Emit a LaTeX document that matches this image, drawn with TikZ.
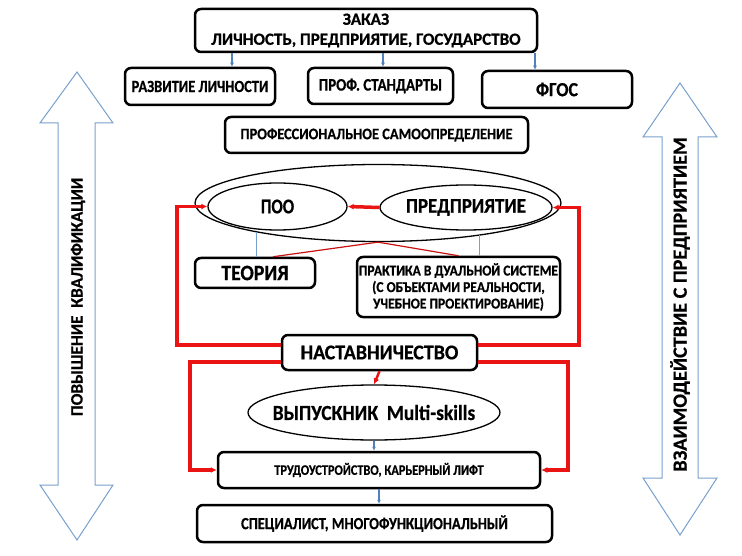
\documentclass[tikz,border=0pt]{standalone}
\usepackage{fontspec}
\setmainfont{Carlito}[FakeBold=0.6]
\newfontfamily\condA{Carlito}[FakeStretch=0.8,FakeBold=0.6]
\newfontfamily\condB{Carlito}[FakeStretch=0.85,FakeBold=0.6]
\newfontfamily\condC{Carlito}[FakeStretch=0.9,FakeBold=0.6]
\newfontfamily\condD{Carlito}[FakeStretch=0.95,FakeBold=0.6]
\usetikzlibrary{shapes.geometric,arrows.meta,calc}
\definecolor{steel}{RGB}{79,129,189}
\definecolor{lightsteel}{RGB}{120,160,205}
\definecolor{rd}{RGB}{235,20,20}
\newcommand{\fs}[2]{\fontsize{#1}{#2}\selectfont}
\tikzset{
  box/.style={draw=black, line width=2.5pt, rounded corners=6pt, fill=white, inner sep=0pt, align=center, font=\bfseries},
  oval/.style={draw=black, ellipse, line width=1.3pt, inner sep=0pt, align=center, font=\bfseries},
  bluecon/.style={draw=steel, line width=1.6pt, -{Latex[length=4pt,width=4pt]}},
  bluethin/.style={draw=lightsteel, line width=0.9pt},
  redline/.style={draw=rd, line width=3.5pt, -{Latex[length=6pt,width=6pt]}},
  redthin/.style={draw=rd!85!black, line width=1.2pt},
  sidearrow/.style={draw=lightsteel, line width=1pt, fill=white},
  sidetext/.style={rotate=90},
}
\begin{document}
\begin{tikzpicture}[x=1pt,y=-1pt]
\useasboundingbox (0,0) rectangle (742,556);
% side arrows
\draw[sidearrow] (77,72) -- (113,123) -- (95,123) -- (95,485) -- (113,485) -- (77,540) -- (40,485) -- (58,485) -- (58,123) -- (40,123) -- cycle;
\draw[sidearrow] (680,83) -- (717,137) -- (698,137) -- (698,478) -- (717,478) -- (680,535) -- (643,478) -- (662,478) -- (662,137) -- (643,137) -- cycle;
\node[sidetext, font=\bfseries\fs{17.3}{20}] (lt) at (78,297) {ПОВЫШЕНИЕ\ \ КВАЛИФИКАЦИИ};
\node[sidetext, font=\bfseries\fs{20.2}{22}] (rt) at (680,304.5) {ВЗАИМОДЕЙСТВИЕ С ПРЕДПРИЯТИЕМ};
% top boxes
\node[box, minimum width=342pt, minimum height=43pt, font=\bfseries\fs{17}{20}] (zakaz) at (366,30.5) {ЗАКАЗ\\ЛИЧНОСТЬ, ПРЕДПРИЯТИЕ, ГОСУДАРСТВО};
\node[box, minimum width=150pt, minimum height=37pt, font=\bfseries\condB\fs{17}{18}] (razv) at (200,86.5) {РАЗВИТИЕ ЛИЧНОСТИ};
\node[box, minimum width=145pt, minimum height=36pt, font=\bfseries\condB\fs{17.5}{18}] (prof) at (380.5,86) {ПРОФ. СТАНДАРТЫ};
\node[box, minimum width=150pt, minimum height=37pt, font=\bfseries\condC\fs{20}{22}] (fgos) at (557,89.5) {ФГОС};
\node[box, minimum width=303pt, minimum height=36pt, font=\bfseries\condC\fs{16}{18}] (samo) at (376.5,135) {ПРОФЕССИОНАЛЬНОЕ САМООПРЕДЕЛЕНИЕ};
\coordinate (c1) at (232,0);
\coordinate (c2) at (383,0);
\coordinate (c3) at (535,0);
\draw[bluecon] (zakaz.south -| c1) -- (razv.north -| c1);
\draw[bluecon] (zakaz.south -| c2) -- (prof.north -| c2);
\draw[bluecon] (zakaz.south -| c3) -- (fgos.north -| c3);
% ellipses
\node[oval, minimum width=366pt, minimum height=77pt] (big) at (378,203) {};
\node[oval, minimum width=139pt, minimum height=47pt, font=\bfseries\condA\fs{21}{23}] (poo) at (277.5,206.5) {ПОО};
\node[oval, minimum width=172pt, minimum height=45pt] (pred) at (466,207.5) {};
\node[font=\bfseries\condC\fs{21}{23}] (predt) at (pred.center) {ПРЕДПРИЯТИЕ};
% theory / practice
\node[box, minimum width=120pt, minimum height=30pt, font=\bfseries\condC\fs{22}{24}] (teor) at (255,273) {ТЕОРИЯ};
\node[box, minimum width=203pt, minimum height=60pt, font=\bfseries\condC\fs{15}{16.5}] (prak) at (458.5,287) {ПРАКТИКА В ДУАЛЬНОЙ СИСТЕМЕ\\(С ОБЪЕКТАМИ РЕАЛЬНОСТИ,\\УЧЕБНОЕ ПРОЕКТИРОВАНИЕ)};
\coordinate (bt1) at (256,232);
\coordinate (bt2) at (479,235);
\draw[bluethin] (bt1) -- (bt1 |- teor.north);
\draw[bluethin] (bt2) -- (bt2 |- prak.north);
\coordinate (t1) at (273,0);
\draw[redthin] (big.south) -- (t1 |- teor.north);
\draw[redthin] (big.south) -- (prak.north);
% mentoring
\node[box, minimum width=195pt, minimum height=35pt, font=\bfseries\condD\fs{21}{23}] (nast) at (379.5,352.5) {НАСТАВНИЧЕСТВО};
\node[oval, minimum width=252pt, minimum height=55pt] (vyp) at (374,412.5) {};
\node[font=\bfseries\condC\fs{21.5}{23}] (vypt) at (vyp.center) {ВЫПУСКНИК\ \ Multi-skills};
\node[box, minimum width=322pt, minimum height=36pt, font=\bfseries\condB\fs{14.5}{16}] (trud) at (379,470) {ТРУДОУСТРОЙСТВО, КАРЬЕРНЫЙ ЛИФТ};
\node[box, minimum width=355pt, minimum height=37pt, font=\bfseries\condB\fs{17}{19}] (spec) at (374.5,523.5) {СПЕЦИАЛИСТ, МНОГОФУНКЦИОНАЛЬНЫЙ};
\draw[bluecon] (vyp.south) -- (trud.north -| vyp.south);
\draw[bluecon] (trud.south) -- (spec.north -| trud.south);
% red loops
\coordinate (a1) at (177,345);
\coordinate (a2) at (579,345);
\coordinate (b1) at (190,362);
\coordinate (b2) at (568,362);
\draw[redline] (pred.west) -- (poo.east);
\draw[redline] (a1 -| nast.west) -- (a1) |- (poo.west);
\draw[redline] (a2 -| nast.east) -- (a2) |- (pred.east);
\draw[redline] (b1 -| nast.west) -- (b1) |- (trud.west);
\draw[redline] (b2 -| nast.east) -- (b2) |- (trud.east);
\draw[redline, line width=2.5pt] (nast.south) -- (vyp.north);
\end{tikzpicture}
\end{document}
